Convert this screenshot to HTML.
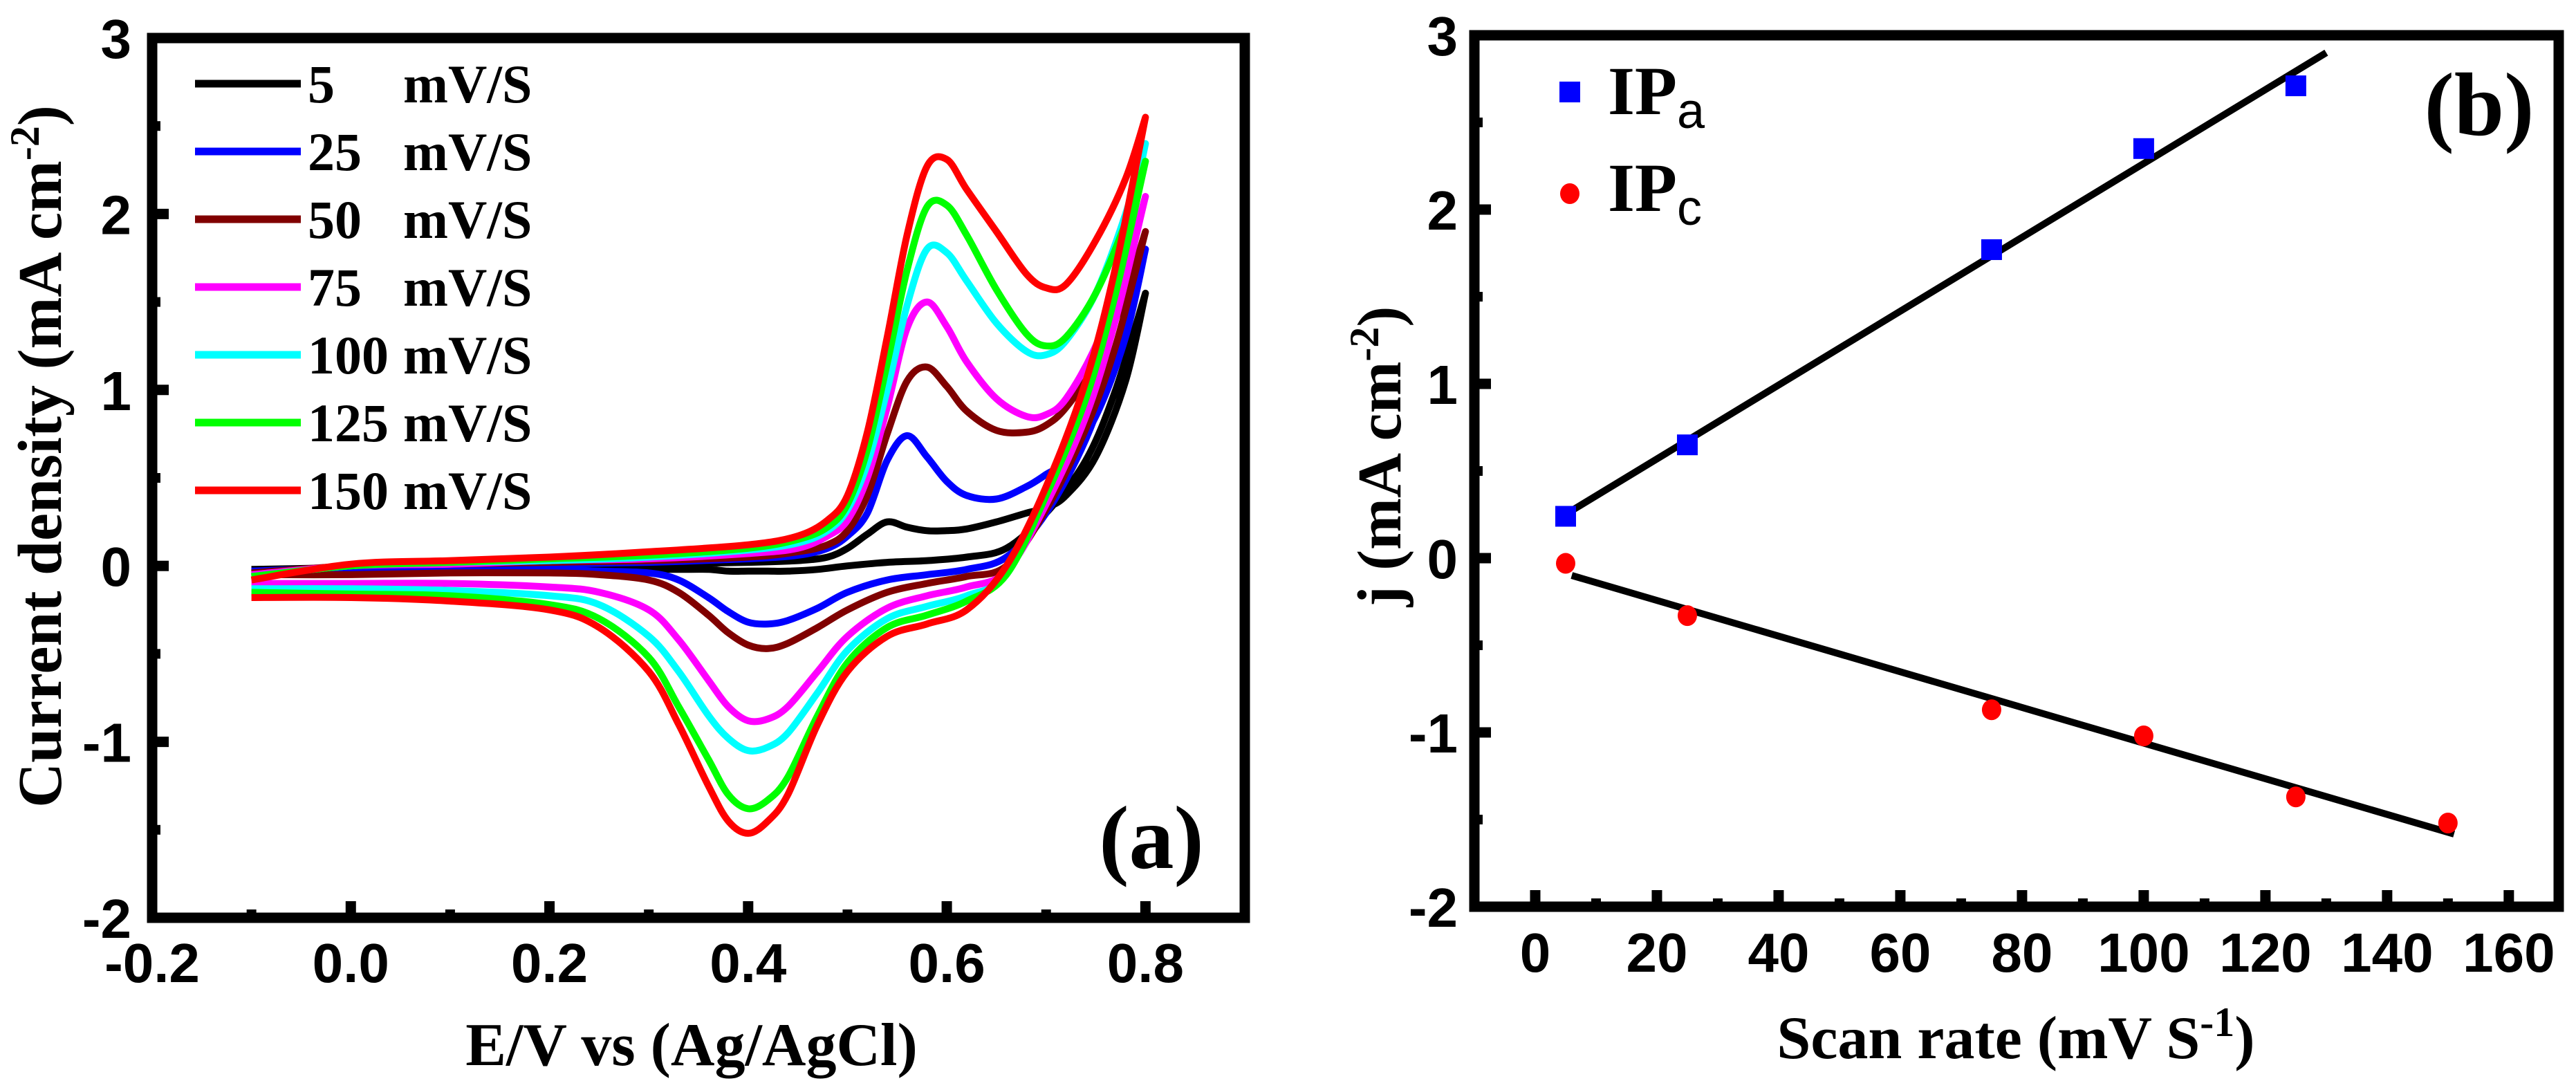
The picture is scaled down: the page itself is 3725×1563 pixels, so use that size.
<!DOCTYPE html>
<html><head><meta charset="utf-8">
<style>
html,body{margin:0;padding:0;background:#fff;}
svg{display:block;}
.tk{font-family:"Liberation Sans",Arial,sans-serif;font-weight:bold;font-size:80px;fill:#000;}
.tt{font-family:"Liberation Serif","Times New Roman",serif;font-weight:bold;fill:#000;}
</style></head>
<body>
<svg id="fig" width="3725" height="1563" viewBox="0 0 3725 1563" xmlns="http://www.w3.org/2000/svg">
<g id="pa"></g>
<g id="pb"></g>
</svg>
<script>
// ---------- Panel (a) data ----------
const cvLabels = ["5   mV/S","25   mV/S","50   mV/S","75   mV/S","100 mV/S","125 mV/S","150 mV/S"];
const cvColors = ["#000000","#0000ff","#800000","#ff00ff","#00ffff","#00ff00","#ff0000"];
const fwdX = [-0.1,0,0.1,0.2,0.3,0.4,0.45,0.48,0.5,0.52,0.54,0.56,0.58,0.6,0.62,0.65,0.68,0.7,0.72,0.75,0.78,0.8];
const revX = [0.8,0.77,0.74,0.7,0.66,0.62,0.58,0.54,0.5,0.47,0.44,0.42,0.4,0.38,0.36,0.33,0.3,0.25,0.2,0.1,0,-0.1];
const fwd5   = [-0.02,-0.01,0,0,0.01,0.02,0.03,0.05,0.1,0.18,0.25,0.22,0.2,0.2,0.21,0.25,0.3,0.33,0.4,0.62,1.05,1.55];
const fwd25  = [-0.03,-0.01,0,0.01,0.02,0.04,0.06,0.1,0.17,0.3,0.6,0.74,0.62,0.48,0.4,0.38,0.45,0.52,0.6,0.85,1.3,1.8];
const fwd50  = [-0.04,0,0.01,0.02,0.03,0.05,0.08,0.12,0.2,0.4,0.75,1.05,1.13,1.02,0.88,0.77,0.76,0.8,0.9,1.15,1.55,1.9];
const fwd75  = [-0.05,0,0.01,0.03,0.04,0.07,0.1,0.17,0.26,0.5,0.9,1.35,1.5,1.36,1.16,0.95,0.85,0.86,0.95,1.25,1.7,2.1];
const fwd100 = [-0.06,0,0.02,0.03,0.05,0.09,0.13,0.2,0.32,0.58,1.0,1.48,1.8,1.78,1.62,1.38,1.22,1.2,1.28,1.55,2.0,2.4];
const fwd125 = [-0.06,0,0.02,0.04,0.06,0.1,0.15,0.22,0.35,0.66,1.15,1.68,2.04,2.05,1.88,1.57,1.32,1.25,1.3,1.55,1.95,2.3];
const fwd150 = [-0.08,0.01,0.03,0.05,0.08,0.12,0.17,0.26,0.4,0.76,1.3,1.88,2.27,2.31,2.14,1.9,1.66,1.58,1.6,1.85,2.2,2.55];
const rev5   = [1.55,1.0,0.6,0.3,0.1,0.05,0.03,0.02,0,-0.02,-0.03,-0.03,-0.03,-0.03,-0.02,-0.02,-0.02,-0.02,-0.02,-0.02,-0.02,-0.02];
const rev25  = [1.8,1.2,0.72,0.3,0.05,-0.02,-0.05,-0.08,-0.15,-0.24,-0.31,-0.33,-0.32,-0.26,-0.18,-0.08,-0.04,-0.03,-0.02,-0.02,-0.03,-0.04];
const rev50  = [1.9,1.25,0.78,0.32,0,-0.06,-0.1,-0.15,-0.25,-0.35,-0.44,-0.47,-0.45,-0.38,-0.28,-0.15,-0.08,-0.05,-0.04,-0.04,-0.05,-0.05];
const rev75  = [2.1,1.4,0.85,0.35,-0.03,-0.12,-0.17,-0.24,-0.4,-0.6,-0.8,-0.87,-0.88,-0.8,-0.65,-0.42,-0.25,-0.15,-0.12,-0.1,-0.1,-0.1];
const rev100 = [2.4,1.6,1.0,0.42,-0.05,-0.17,-0.23,-0.3,-0.48,-0.72,-0.95,-1.03,-1.05,-0.98,-0.85,-0.6,-0.4,-0.22,-0.17,-0.14,-0.13,-0.13];
const rev125 = [2.3,1.55,0.95,0.4,-0.05,-0.2,-0.28,-0.35,-0.55,-0.85,-1.2,-1.33,-1.38,-1.3,-1.1,-0.8,-0.52,-0.3,-0.22,-0.17,-0.16,-0.15];
const rev150 = [2.55,1.7,1.05,0.45,0,-0.25,-0.33,-0.4,-0.6,-0.9,-1.3,-1.45,-1.52,-1.45,-1.25,-0.9,-0.6,-0.35,-0.25,-0.2,-0.18,-0.18];
const aXTicks = [-0.2,0.0,0.2,0.4,0.6,0.8];
const aXTickLabels = ["-0.2","0.0","0.2","0.4","0.6","0.8"];
const aYTicks = [-2,-1,0,1,2,3];
const aYTickLabels = ["-2","-1","0","1","2","3"];

// ---------- Panel (b) data ----------
const scanRates = [5,25,75,100,125];
const ipaValues = [0.24,0.65,1.77,2.35,2.71];
const scanRatesC = [5,25,75,100,125,150];
const ipcValues = [-0.03,-0.33,-0.87,-1.02,-1.37,-1.52];
const bXTicks = [0,20,40,60,80,100,120,140,160];
const bXTickLabels = ["0","20","40","60","80","100","120","140","160"];
const bYTicks = [-2,-1,0,1,2,3];
const bYTickLabels = ["-2","-1","0","1","2","3"];

const NS = "http://www.w3.org/2000/svg";
function mk(parent, tag, attrs, text){
  const e = document.createElementNS(NS, tag);
  for (const k in attrs) e.setAttribute(k, attrs[k]);
  if (text !== undefined) e.textContent = text;
  parent.appendChild(e);
  return e;
}
function smoothPath(pts){
  let d = "M" + pts[0][0].toFixed(1) + "," + pts[0][1].toFixed(1);
  for (let i=0;i<pts.length-1;i++){
    const p0 = pts[Math.max(0,i-1)], p1 = pts[i], p2 = pts[i+1], p3 = pts[Math.min(pts.length-1,i+2)];
    const c1x = p1[0]+(p2[0]-p0[0])/6, c1y = p1[1]+(p2[1]-p0[1])/6;
    const c2x = p2[0]-(p3[0]-p1[0])/6, c2y = p2[1]-(p3[1]-p1[1])/6;
    d += " C"+c1x.toFixed(1)+","+c1y.toFixed(1)+" "+c2x.toFixed(1)+","+c2y.toFixed(1)+" "+p2[0].toFixed(1)+","+p2[1].toFixed(1);
  }
  return d;
}

// ===== Panel A =====
const pa = document.getElementById("pa");
const A = {l:220, r:1800, t:55, b:1327, xmin:-0.2, xmax:0.9, ymin:-2, ymax:3};
const ax = v => A.l + (v-A.xmin)/(A.xmax-A.xmin)*(A.r-A.l);
const ay = v => A.b - (v-A.ymin)/(A.ymax-A.ymin)*(A.b-A.t);
const fwdAll = [fwd5,fwd25,fwd50,fwd75,fwd100,fwd125,fwd150];
const revAll = [rev5,rev25,rev50,rev75,rev100,rev125,rev150];
const curvesG = mk(pa,"g",{});


for (let s=0;s<cvLabels.length;s++){
  const pts = fwdX.map((x,i)=>[ax(x),ay(fwdAll[s][i])]);
  const rpts = revX.map((x,i)=>[ax(x),ay(revAll[s][i])]);
  const p = mk(curvesG,"path",{d:smoothPath(pts)+" "+smoothPath(rpts).replace("M"," L"),fill:"none",stroke:cvColors[s],"stroke-width":10,"stroke-linejoin":"round"});
  
  
}
const fa = mk(pa,"rect",{x:A.l,y:A.t,width:A.r-A.l,height:A.b-A.t,fill:"none",stroke:"#000","stroke-width":15});


for (let i=0;i<aXTicks.length;i++){
  const x = ax(aXTicks[i]);
  if (i>0) mk(pa,"line",{x1:x,x2:x,y1:A.b,y2:A.b-24,stroke:"#000","stroke-width":15});
  const mx = ax(aXTicks[i]+0.1);
  if (mx < A.r-10) mk(pa,"line",{x1:mx,x2:mx,y1:A.b,y2:A.b-12,stroke:"#000","stroke-width":14});
  const t = mk(pa,"text",{x:x,y:1420,"text-anchor":"middle",class:"tk"},aXTickLabels[i]);
  
  
}
for (let i=0;i<aYTicks.length;i++){
  const y = ay(aYTicks[i]);
  if (i>0 && i<aYTicks.length-1) mk(pa,"line",{x1:A.l,x2:A.l+24,y1:y,y2:y,stroke:"#000","stroke-width":15});
  if (i<aYTicks.length-1){ const my = ay(aYTicks[i]+0.5); mk(pa,"line",{x1:A.l,x2:A.l+12,y1:my,y2:my,stroke:"#000","stroke-width":14}); }
  const t = mk(pa,"text",{x:190,y:y+29,"text-anchor":"end",class:"tk"},aYTickLabels[i]);
  
  
}
const xta = mk(pa,"text",{x:1000,y:1540,"text-anchor":"middle",class:"tt","font-size":88},"E/V vs (Ag/AgCl)");


const yta = mk(pa,"text",{x:0,y:0,"text-anchor":"middle",class:"tt","font-size":90,transform:"translate(88,660) rotate(-90)"});


yta.innerHTML = 'Current density (mA cm<tspan dy="-32" font-size="60">-2</tspan><tspan dy="32">)</tspan>';
for (let s=0;s<cvLabels.length;s++){
  const y = 121 + s*98;
  const g = mk(pa,"g",{});
  
  
  mk(g,"line",{x1:282,x2:435,y1:y,y2:y,stroke:cvColors[s],"stroke-width":11});
  const parts = cvLabels[s].split(/\s+/);
  mk(g,"text",{x:445,y:y+27,class:"tt","font-size":78},parts[0]);
  mk(g,"text",{x:583,y:y+27,class:"tt","font-size":78},parts[1]);
}
const la = mk(pa,"text",{x:1665,y:1255,"text-anchor":"middle",class:"tt","font-size":130},"(a)");



// ===== Panel B =====
const pb = document.getElementById("pb");
const B = {l:2132, r:3700, t:51, b:1311, xmin:-10, xmax:168.2, ymin:-2, ymax:3};
const bx = v => B.l + (v-B.xmin)/(B.xmax-B.xmin)*(B.r-B.l);
const by = v => B.b - (v-B.ymin)/(B.ymax-B.ymin)*(B.b-B.t);
function fit(xs, ys){
  const n=xs.length; let sx=0,sy=0,sxx=0,sxy=0;
  for (let i=0;i<n;i++){sx+=xs[i];sy+=ys[i];sxx+=xs[i]*xs[i];sxy+=xs[i]*ys[i];}
  const m=(n*sxy-sx*sy)/(n*sxx-sx*sx); return [m,(sy-m*sx)/n];
}
const fa1 = fit(scanRates, ipaValues), fc1 = fit(scanRatesC, ipcValues);
const fitA = mk(pb,"line",{x1:bx(5),y1:by(fa1[0]*5+fa1[1]),x2:bx(130),y2:by(fa1[0]*130+fa1[1]),stroke:"#000","stroke-width":10});


const fitC = mk(pb,"line",{x1:bx(6),y1:by(fc1[0]*6+fc1[1]),x2:bx(151),y2:by(fc1[0]*151+fc1[1]),stroke:"#000","stroke-width":10});


for (let i=0;i<scanRates.length;i++){
  const r = mk(pb,"rect",{x:bx(scanRates[i])-15,y:by(ipaValues[i])-15,width:30,height:30,fill:"#0000ff"});
  
  
}
for (let i=0;i<scanRatesC.length;i++){
  const c = mk(pb,"ellipse",{cx:bx(scanRatesC[i]),cy:by(ipcValues[i]),rx:14,ry:15,fill:"#ff0000"});
  
  
}
const fb = mk(pb,"rect",{x:B.l,y:B.t,width:B.r-B.l,height:B.b-B.t,fill:"none",stroke:"#000","stroke-width":15});


for (let i=0;i<bXTicks.length;i++){
  const x = bx(bXTicks[i]);
  mk(pb,"line",{x1:x,x2:x,y1:B.b,y2:B.b-24,stroke:"#000","stroke-width":15});
  const mx = bx(bXTicks[i]+10);
  if (mx < B.r-10) mk(pb,"line",{x1:mx,x2:mx,y1:B.b,y2:B.b-12,stroke:"#000","stroke-width":14});
  const t = mk(pb,"text",{x:x,y:1405,"text-anchor":"middle",class:"tk"},bXTickLabels[i]);
  
  
}
for (let i=0;i<bYTicks.length;i++){
  const y = by(bYTicks[i]);
  if (i>0 && i<bYTicks.length-1) mk(pb,"line",{x1:B.l,x2:B.l+24,y1:y,y2:y,stroke:"#000","stroke-width":15});
  if (i<bYTicks.length-1){ const my = by(bYTicks[i]+0.5); mk(pb,"line",{x1:B.l,x2:B.l+12,y1:my,y2:my,stroke:"#000","stroke-width":14}); }
  const t = mk(pb,"text",{x:2108,y:y+29,"text-anchor":"end",class:"tk"},bYTickLabels[i]);
  
  
}
const xtb = mk(pb,"text",{x:2915,y:1530,"text-anchor":"middle",class:"tt","font-size":88});


xtb.innerHTML = 'Scan rate (mV S<tspan dy="-32" font-size="60">-1</tspan><tspan dy="32">)</tspan>';
const ytb = mk(pb,"text",{x:0,y:0,"text-anchor":"middle",class:"tt","font-size":90,transform:"translate(2025,660) rotate(-90)"});


ytb.innerHTML = 'j (mA cm<tspan dy="-32" font-size="60">-2</tspan><tspan dy="32">)</tspan>';
const lg1 = mk(pb,"g",{});


mk(lg1,"rect",{x:2255,y:118,width:30,height:30,fill:"#0000ff"});
mk(lg1,"text",{x:2325,y:165,class:"tt","font-size":100},"IP").innerHTML='IP<tspan dy="20" font-size="72" font-family="Liberation Sans, sans-serif" font-weight="normal">a</tspan>';
const lg2 = mk(pb,"g",{});


mk(lg2,"ellipse",{cx:2270,cy:280,rx:14,ry:15,fill:"#ff0000"});
mk(lg2,"text",{x:2325,y:305,class:"tt","font-size":100},"IP").innerHTML='IP<tspan dy="20" font-size="72" font-family="Liberation Sans, sans-serif" font-weight="normal">c</tspan>';
const lb = mk(pb,"text",{x:3585,y:195,"text-anchor":"middle",class:"tt","font-size":130},"(b)");


</script>
</body></html>
